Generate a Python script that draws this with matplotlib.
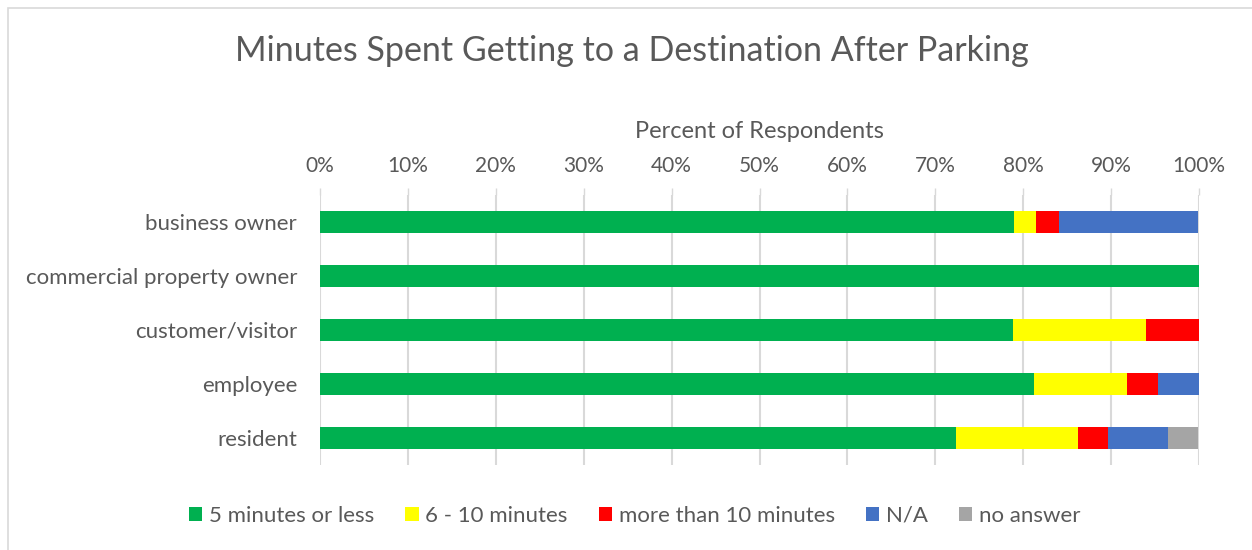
import numpy as np
import matplotlib.pyplot as plt
from matplotlib.patches import Rectangle

plt.rcParams['font.family'] = ['Lato', 'DejaVu Sans']

categories = ["business owner", "commercial property owner", "customer/visitor",
              "employee", "resident"]
series_names = ["5 minutes or less", "6 - 10 minutes", "more than 10 minutes",
                "N/A", "no answer"]
five_or_less = [78.9, 100.0, 78.8, 81.2, 72.4]
six_to_ten = [2.6, 0.0, 15.2, 10.6, 13.8]
more_than_ten = [2.6, 0.0, 6.1, 3.5, 3.4]
not_applicable = [15.8, 0.0, 0.0, 4.7, 6.9]
no_answer = [0.0, 0.0, 0.0, 0.0, 3.4]
colors = ["#00B050", "#FFFF00", "#FF0000", "#4472C4", "#A5A5A5"]

text_color = "#595959"

fig = plt.figure(figsize=(12.52, 5.5), dpi=100)
fig.patches.append(Rectangle((8 / 1252, -0.1), 1.2, 1 - 8 / 550 + 0.1,
                             transform=fig.transFigure, fill=False,
                             edgecolor="#D9D9D9", lw=1.2))
ax = fig.add_axes([320 / 1252, 85 / 550, 879 / 1252, 270 / 550])

y = np.arange(len(categories))
left = np.zeros(len(categories))
for name, vals, c in zip(series_names,
                         [five_or_less, six_to_ten, more_than_ten, not_applicable, no_answer],
                         colors):
    vals = np.array(vals)
    ax.barh(y, vals, left=left, height=0.4, color=c, label=name, zorder=3)
    left += vals

ax.set_xlim(0, 100)
ax.set_ylim(len(categories) - 0.5, -0.5)
ax.set_xticks(np.arange(0, 101, 10))
ax.set_xticklabels([f"{v}%" for v in range(0, 101, 10)])
ax.xaxis.tick_top()
ax.xaxis.set_label_position("top")
ax.set_xlabel("Percent of Respondents", fontsize=17, color=text_color, labelpad=13)
ax.set_yticks(y)
ax.set_yticklabels(categories)
ax.tick_params(axis="x", colors=text_color, labelsize=15, length=5, width=1,
               color="#D9D9D9", pad=9)
ax.tick_params(axis="y", colors=text_color, labelsize=16, length=0, pad=16.5)
ax.grid(axis="x", color="#D9D9D9", lw=1.5, zorder=0)
for s in ax.spines.values():
    s.set_visible(False)

fig.text(0.505, 1 - 51 / 550, "Minutes Spent Getting to a Destination After Parking",
         ha="center", va="center", fontsize=24.5, color=text_color)

fig.legend(loc="center", bbox_to_anchor=(0.507, 1 - 516 / 550), ncol=5,
           frameon=False, fontsize=16, labelcolor=text_color,
           handlelength=0.6, handleheight=0.6, handletextpad=0.3, columnspacing=1.4)

fig.savefig("out.png", dpi=100)
